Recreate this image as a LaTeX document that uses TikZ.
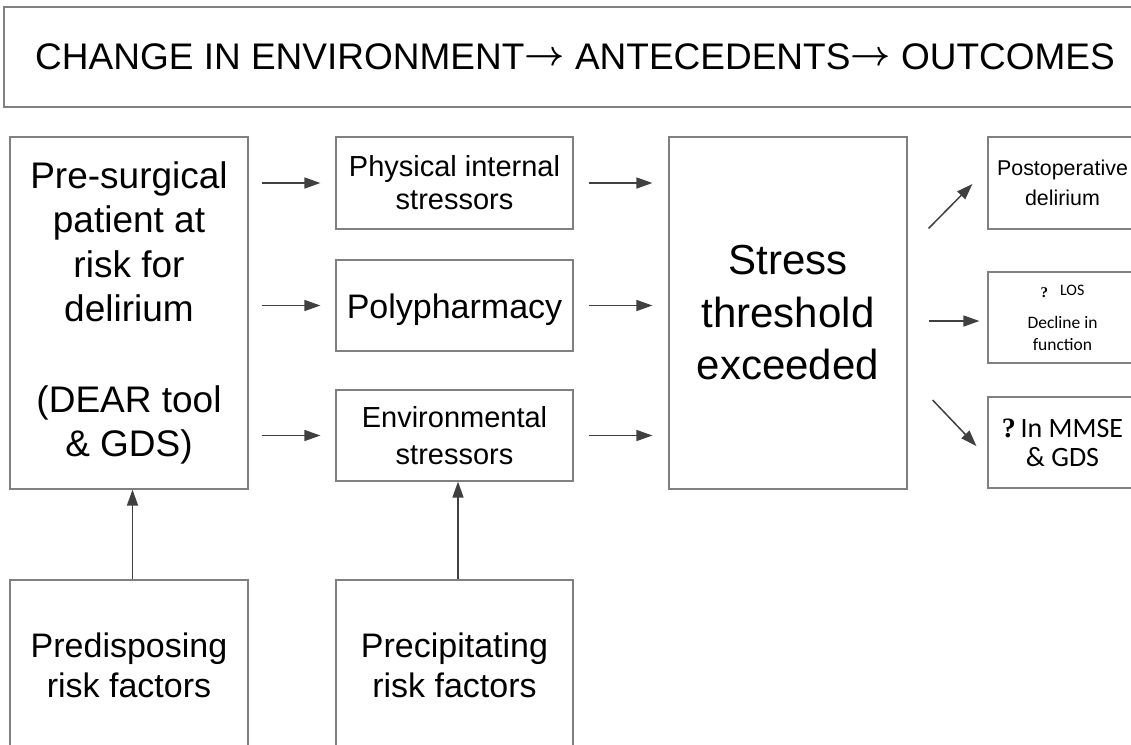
\documentclass[tikz,border=0pt]{standalone}
\usepackage{graphicx}
\usepackage{fontspec}
\setmainfont{Liberation Sans}
\newfontfamily\carlito{Carlito}
\newfontfamily\qserif{Liberation Serif}
\usetikzlibrary{arrows.meta,calc}
\definecolor{boxgray}{HTML}{808080}
\definecolor{arrgray}{HTML}{404040}
\newcommand{\tarr}{\raisebox{4.5pt}{\scalebox{3.5}{\fontsize{10}{10}\selectfont$\boldsymbol{\rightarrow}$}}}
\tikzset{
  box/.style={draw=boxgray, line width=1.2pt, inner sep=0pt, align=center, text=black},
  arr/.style={draw=arrgray, line width=1.5pt, -{Triangle[length=16pt,width=11pt]}}
}
\usepackage{amsmath}
\begin{document}
\begin{tikzpicture}[x=1pt,y=-1pt]
\clip (0,0) rectangle (1131,744);
\fill[white] (0,0) rectangle (1131,744);

% title
\node[box, minimum width=1142pt, minimum height=100pt, font=\fontsize{37}{44}\selectfont] (title) at (575,57)
  {CHANGE IN ENVIRONMENT\tarr{} ANTECEDENTS\tarr{} OUTCOMES};

% left column
\node[box, minimum width=238pt, minimum height=352pt, font=\fontsize{37}{44.4}\selectfont] (pre) at (129,313)
  {Pre-surgical\\patient at\\risk for\\delirium\\[46pt](DEAR tool\\\& GDS)};
\node[box, minimum width=238pt, minimum height=170pt, font=\fontsize{34}{40}\selectfont] (pred) at (129,665)
  {Predisposing\\risk factors};

% middle column
\node[box, minimum width=237pt, minimum height=92pt, font=\fontsize{29}{33}\selectfont] (phys) at (454.5,183)
  {Physical internal\\stressors};
\node[box, minimum width=237pt, minimum height=91pt, font=\fontsize{34}{40}\selectfont] (poly) at (454.5,305.5)
  {\rule{0pt}{34pt}Polypharmacy};
\node[box, minimum width=237pt, minimum height=91pt, font=\fontsize{29}{36.5}\selectfont] (env) at (454.5,435.5)
  {Environmental\\stressors};
\node[box, minimum width=237pt, minimum height=170pt, font=\fontsize{34}{40}\selectfont] (prec) at (454.5,665)
  {Precipitating\\risk factors};

% stress
\node[box, minimum width=238pt, minimum height=352pt, font=\fontsize{42}{52.5}\selectfont] (stress) at (788,313)
  {Stress\\threshold\\exceeded};

% outcomes
\node[box, minimum width=149pt, minimum height=92pt, font=\fontsize{21.4}{30}\selectfont] (postop) at (1062.5,183)
  {Postoperative\\delirium};
\node[box, minimum width=149pt, minimum height=91pt, font=\carlito\fontsize{17.5}{22}\selectfont] (los) at (1062.5,317.5)
  {{\qserif\bfseries\fontsize{15}{15}\selectfont ?}\hspace{12pt}{\fontsize{16}{16}\selectfont\raisebox{2pt}{LOS}}\\[9pt]Decline in\\function};
\node[box, minimum width=149pt, minimum height=91pt, font=\carlito\fontsize{28}{29}\selectfont] (mmse) at (1062.5,442.5)
  {{\qserif\bfseries ?}\,In MMSE\\\& GDS};

% connectors
\draw[arr, shorten <=13pt, shorten >=15pt] (pre.east |- phys.west) -- (phys.west);
\draw[arr, shorten <=13pt, shorten >=15pt] (pre.east |- poly.west) -- (poly.west);
\draw[arr, shorten <=13pt, shorten >=15pt] (pre.east |- env.west) -- (env.west);
\draw[arr, shorten <=15pt, shorten >=16pt] (phys.east) -- (phys.east -| stress.west);
\draw[arr, shorten <=15pt, shorten >=16pt] (poly.east) -- (poly.east -| stress.west);
\draw[arr, shorten <=15pt, shorten >=16pt] (env.east) -- (env.east -| stress.west);
\draw[arr] ([shift={(21,92)}]stress.north east) -- ([shift={(-15,1)}]postop.west);
\draw[arr] ([shift={(21,8)}]stress.east) -- ([shift={(-8,3.5)}]los.west);
\draw[arr] ([shift={(25,87)}]stress.east) -- ([shift={(-11,3.5)}]mmse.west);
\draw[arr] ($(pred.north)+(3.5,0)$) -- ($(pre.south)+(3.5,0)$);
\draw[arr] ($(prec.north)+(3.5,0)$) -- ($(env.south)+(3.5,0)$);
\end{tikzpicture}
\end{document}
